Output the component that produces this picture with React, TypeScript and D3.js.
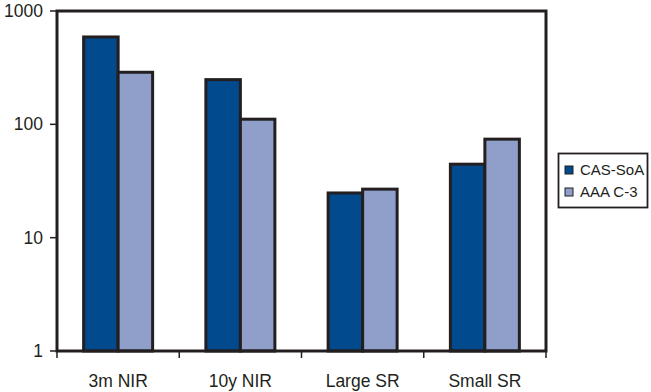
import React from "react";
import * as d3 from "d3";

const categories = ["3m NIR", "10y NIR", "Large SR", "Small SR"];
const seriesNames = ["CAS-SoA", "AAA C-3"];
const casSoA = [590, 248, 24.8, 44.5];
const aaaC3 = [288, 111, 26.8, 74];
const yTicks = [1, 10, 100, 1000];
const colors = ["#004a8d", "#8f9fc9"];

const W = 651;
const H = 392;
const M = { left: 57, right: 546, top: 11, bottom: 351 };
const FONT = "'Liberation Sans', Arial, sans-serif";
const INK = "#231f20";

export default function App() {
  const x = d3.scaleBand<string>().domain(categories).range([M.left, M.right]).padding(0);
  const groupW = 69;
  const off = (x.bandwidth() - groupW) / 2;
  const xs = d3.scaleBand<string>().domain(seriesNames).range([0, groupW]).padding(0);
  const y = d3.scaleLog().domain([1, 1000]).range([M.bottom, M.top]);
  const series = [casSoA, aaaC3];

  return (
    <svg width={W} height={H} style={{ position: "absolute", left: 0, top: 0, background: "#fff" }}>
      <rect x={0} y={0} width={W} height={H} fill="#fff" />
      {/* bars */}
      {categories.map((c, i) =>
        series.map((s, j) => {
          const bx = (x(c) as number) + off + (xs(seriesNames[j]) as number);
          const by = y(s[i]);
          return (
            <rect
              key={c + j}
              x={bx}
              y={by}
              width={xs.bandwidth()}
              height={M.bottom - by}
              fill={colors[j]}
              stroke={INK}
              strokeWidth={3}
            />
          );
        })
      )}
      {/* plot border */}
      <rect
        x={M.left}
        y={M.top}
        width={M.right - M.left}
        height={M.bottom - M.top}
        fill="none"
        stroke={INK}
        strokeWidth={3}
      />
      {/* y ticks */}
      {yTicks.map((t) => (
        <g key={t}>
          <line x1={M.left - 7} x2={M.left} y1={y(t)} y2={y(t)} stroke={INK} strokeWidth={1.5} />
          <text
            x={M.left - 14}
            y={y(t)}
            dy="0.35em"
            textAnchor="end"
            fontFamily={FONT}
            fontSize={17.5}
            fill={INK}
          >
            {t}
          </text>
        </g>
      ))}
      {/* x ticks */}
      {[...categories.map((c) => x(c) as number), M.right].map((px, i) => (
        <line key={i} x1={px} x2={px} y1={M.bottom} y2={M.bottom + 7} stroke={INK} strokeWidth={1.5} />
      ))}
      {categories.map((c) => (
        <text
          key={c}
          x={(x(c) as number) + x.bandwidth() / 2}
          y={387}
          textAnchor="middle"
          fontFamily={FONT}
          fontSize={17.5}
          fill={INK}
        >
          {c}
        </text>
      ))}
      {/* legend */}
      <rect x={558.5} y={153.5} width={89} height={54} fill="#fff" stroke={INK} strokeWidth={1.8} />
      {seriesNames.map((n, j) => (
        <g key={n}>
          <rect x={565} y={166 + j * 22} width={8} height={8} fill={colors[j]} stroke={INK} strokeWidth={1} />
          <text x={580} y={170 + j * 22} dy="0.35em" fontFamily={FONT} fontSize={15} fill={INK}>
            {n}
          </text>
        </g>
      ))}
    </svg>
  );
}
